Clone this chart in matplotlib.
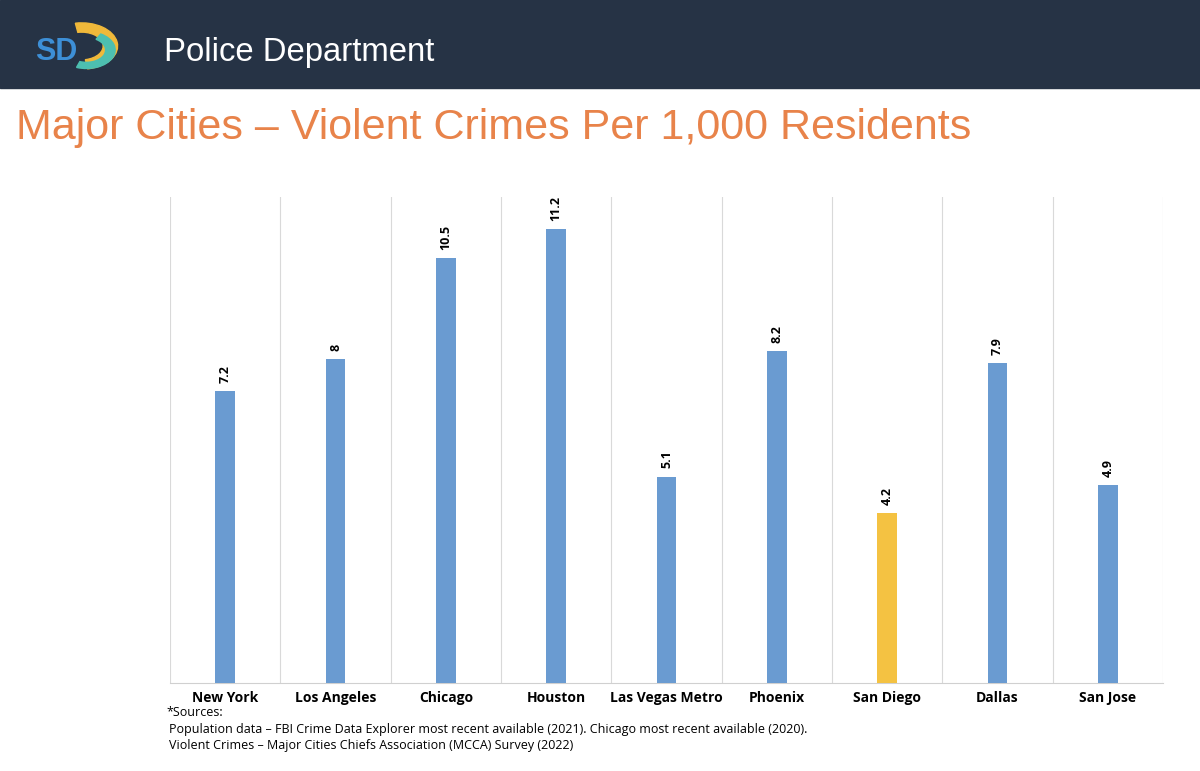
import matplotlib
matplotlib.use("Agg")
import matplotlib.pyplot as plt
from matplotlib.patches import Rectangle, Wedge

cities = ["New York", "Los Angeles", "Chicago", "Houston", "Las Vegas Metro",
          "Phoenix", "San Diego", "Dallas", "San Jose"]
rates = [7.2, 8, 10.5, 11.2, 5.1, 8.2, 4.2, 7.9, 4.9]
highlight = "San Diego"

blue = "#6a9bd1"
gold = "#f4c242"
orange = "#e8834a"

fig = plt.figure(figsize=(12, 7.71), dpi=100)
fig.patch.set_facecolor("white")

# header band
fig.patches.append(Rectangle((0, 1 - 88 / 771), 1, 88 / 771, transform=fig.transFigure,
                             color="#263345", zorder=0))
fig.text(0.137, 1 - 52 / 771, "Police Department", color="white", fontsize=23.7,
         family="Liberation Sans", va="center")
# rough logo
fig.patches.append(Wedge((0.068, 1 - 46 / 771), 0.03, -80, 100, width=0.012,
                         transform=fig.transFigure, color="#f0b93a"))
fig.patches.append(Wedge((0.072, 1 - 50 / 771), 0.024, -110, 60, width=0.008,
                         transform=fig.transFigure, color="#4dbfb0"))
fig.text(0.047, 1 - 52 / 771, "SD", color="#3d8fd6", fontsize=22, weight="bold",
         family="Liberation Sans", va="center", ha="center")

fig.text(0.013, 1 - 128 / 771, "Major Cities \u2013 Violent Crimes Per 1,000 Residents",
         color=orange, fontsize=31, family="Liberation Sans", va="center")

ax = fig.add_axes([0.1417, 0.114, 0.8275, 0.6305])
x = range(len(cities))
colors = [gold if c == highlight else blue for c in cities]
ax.bar(x, rates, width=0.18, color=colors, zorder=3)
for i, v in enumerate(rates):
    ax.text(i, v + 0.2, f"{v:g}", rotation=90, ha="center", va="bottom",
            fontsize=9, weight="bold", family="Open Sans")

ax.set_xlim(-0.5, len(cities) - 0.5)
ax.set_ylim(0, 12)
ax.set_yticks([])
ax.set_xticks(list(x))
ax.set_xticklabels(cities, fontsize=10, weight="bold", family="Open Sans")
ax.tick_params(axis="x", length=0, pad=6)
for b in [i - 0.5 for i in range(len(cities) + 1)]:
    ax.axvline(b, color="#d9d9d9", lw=0.8, zorder=1)
for s in ["top", "left", "right"]:
    ax.spines[s].set_visible(False)
ax.spines["bottom"].set_color("#d0d0d0")

fig.text(0.139, 1 - 713 / 771, "*Sources:", fontsize=9, family="Open Sans", va="center")
fig.text(0.141, 1 - 729 / 771,
         "Population data \u2013 FBI Crime Data Explorer most recent available (2021). "
         "Chicago most recent available (2020).", fontsize=9, family="Open Sans", va="center")
fig.text(0.141, 1 - 746 / 771,
         "Violent Crimes \u2013 Major Cities Chiefs Association (MCCA) Survey (2022)",
         fontsize=9, family="Open Sans", va="center")

fig.savefig("out.png", dpi=100)
